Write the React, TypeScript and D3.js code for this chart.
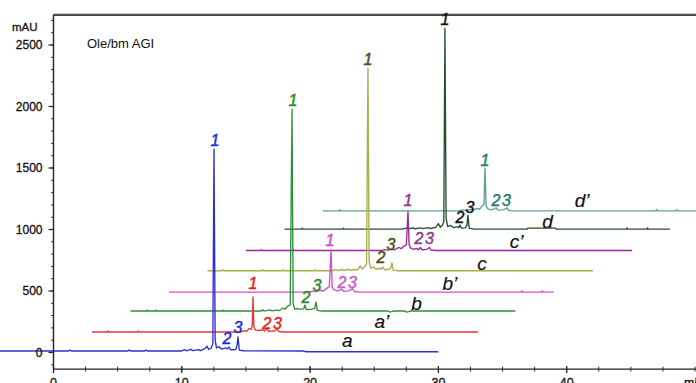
import React from 'react';
import * as d3 from 'd3';

const W = 696;
const H = 383;

const title = 'Ole/bm AGI';
const yUnit = 'mAU';
const xUnit = 'min';
const xTickValues = [0, 10, 20, 30, 40];
const yTickValues = [0, 500, 1000, 1500, 2000, 2500];

// series (stacked chromatograms): names, time shift (min), baseline offset (mAU)
const seriesNames = ['a', 'a\u2019', 'b', 'b\u2019', 'c', 'c\u2019', 'd', 'd\u2019'];
const seriesShift = [0, 3, 6, 9, 12, 15, 18, 21];
const seriesBase = [12, 167, 337, 491, 665, 829, 1003, 1152];
const seriesLine = ['#2e2ed8', '#e23b36', '#2f8f3d', '#d24ed2', '#acac4a', '#962b96', '#2c4c30', '#5e9e96'];
const seriesLabelT = [22.9, 22.6, 22.3, 21.9, 21.4, 21.1, 20.5, 20.2];
const seriesLabelV = [33, 33, 10, 15, 6, 20, 8, 30];

// local chromatograms: [time (min), signal above baseline (mAU)]
const traceA: [number, number][] = [
  [-4.5, 0], [1.2, 0], [1.3, 8], [1.4, 0], [5.8, 0], [5.9, 8], [6.0, 0], [7.1, 0], [7.2, 8], [7.3, 0],
  [10.0, 0], [10.2, 12], [10.35, 2], [10.7, 14], [10.85, 3], [11.3, 12], [11.45, 4], [11.8, 20], [11.95, 40],
  [12.1, 12], [12.3, 25], [12.42, 60], [12.51, 1641], [12.6, 90], [12.7, 25], [12.9, 35], [13.1, 15],
  [13.4, 25], [13.55, 18], [13.68, 33], [13.8, 10], [14.2, 12], [14.3, 40], [14.38, 114], [14.48, 8],
  [14.8, 2], [19.5, 0], [19.7, -6], [30, -6],
];
const traceA2: [number, number][] = [
  [0, 0], [1.2, 0], [1.25, 8], [1.3, 0], [3.55, 0], [3.6, 8], [3.65, 0], [11.6, 0], [11.9, 10], [12.05, 5],
  [12.25, 28], [12.42, 20], [12.5, 60], [12.55, 284], [12.62, 40], [12.75, 15], [13.0, 12], [13.3, 18],
  [13.45, 8], [13.64, 25], [13.75, 6], [14.1, 8], [14.3, 12], [14.42, 25], [14.55, 4], [14.9, 0], [30.1, 0],
];
const traceB: [number, number][] = [
  [0, 0], [1.25, 0], [1.3, 8], [1.35, 0], [1.95, 0], [2.0, 8], [2.05, 0], [7.15, 0], [7.2, 8], [7.25, 0],
  [10.2, 0], [10.3, 10], [10.4, 0], [10.9, 10], [11.0, 2], [11.4, 8], [11.6, 4], [11.9, 25], [12.05, 15],
  [12.25, 40], [12.45, 50], [12.59, 1641], [12.68, 60], [12.8, 15], [13.0, 20], [13.3, 15], [13.5, 18],
  [13.6, 49], [13.7, 12], [14.1, 15], [14.35, 20], [14.46, 73], [14.56, 5], [14.9, 0], [20.1, 0],
  [20.2, -8], [20.5, 0], [21.4, 0], [21.55, -8], [21.8, 0], [30, 0],
];
const traceB2: [number, number][] = [
  [0, 0], [10.9, 0], [11.2, 8], [11.4, 2], [11.8, 15], [12.0, 8], [12.3, 30], [12.5, 45], [12.63, 342],
  [12.72, 40], [12.85, 20], [13.1, 10], [13.3, 15], [13.45, 25], [13.6, 6], [14.0, 10], [14.3, 28],
  [14.45, 5], [14.9, 0], [27.45, 0], [27.5, 10], [27.55, 0], [29.05, 0], [29.1, 10], [29.15, 0], [30, 0],
];
const traceC: [number, number][] = [
  [0, 0], [1.15, 0], [1.2, 8], [1.25, 0], [4.25, 0], [4.3, 8], [4.35, 0], [5.85, 0], [5.9, 8], [5.95, 0],
  [8.35, 0], [8.4, 8], [8.45, 0], [9.8, 0], [10.0, 10], [10.15, 0], [10.5, 10], [10.65, 2], [11.0, 12],
  [11.15, 4], [11.5, 10], [11.7, 5], [11.9, 40], [12.05, 15], [12.25, 30], [12.4, 60], [12.51, 1646],
  [12.6, 80], [12.72, 20], [12.95, 30], [13.15, 12], [13.45, 20], [13.55, 12], [13.68, 30], [13.8, 8],
  [14.15, 12], [14.28, 20], [14.38, 63], [14.48, 5], [14.8, 0], [30.05, 0],
];
const traceC2: [number, number][] = [
  [0, 0], [1.15, 0], [1.2, 8], [1.25, 0], [3.65, 0], [3.7, 8], [3.75, 0], [10.5, 0], [10.8, 8], [11.0, 3],
  [11.4, 10], [11.6, 6], [11.9, 25], [12.1, 15], [12.3, 35], [12.5, 45], [12.63, 316], [12.72, 45],
  [12.85, 20], [13.1, 10], [13.3, 18], [13.45, 6], [13.6, 25], [13.72, 6], [14.1, 10], [14.3, 25],
  [14.42, 4], [14.8, 0], [30.1, 0],
];
const traceD: [number, number][] = [
  [0, 0], [1.35, 0], [1.4, 8], [1.45, 0], [4.55, 0], [4.6, 8], [4.65, 0], [9.2, 0], [9.5, 8], [9.65, 2],
  [10.0, 10], [10.2, 3], [10.6, 10], [10.8, 4], [11.2, 12], [11.4, 5], [11.8, 15], [12.0, 45], [12.15, 15],
  [12.3, 30], [12.42, 60], [12.51, 1633], [12.6, 90], [12.72, 20], [12.95, 30], [13.2, 12], [13.5, 20],
  [13.6, 12], [13.68, 33], [13.8, 8], [14.1, 10], [14.22, 30], [14.3, 114], [14.4, 8], [14.8, 0],
  [18.9, 0], [19.0, 8], [21.1, 8], [21.2, 0], [26.65, 0], [26.7, 10], [26.75, 0], [28.25, 0], [28.3, 10],
  [28.35, 0], [30.05, 0],
];
const traceD2: [number, number][] = [
  [0, 0], [1.25, 0], [1.3, 8], [1.35, 0], [10.6, 0], [10.9, 8], [11.1, 2], [11.5, 12], [11.7, 5], [12.0, 20],
  [12.2, 12], [12.4, 40], [12.55, 50], [12.63, 346], [12.72, 40], [12.85, 15], [13.1, 8], [13.35, 15],
  [13.5, 25], [13.62, 5], [14.0, 8], [14.25, 15], [14.35, 25], [14.45, 4], [14.8, 0], [25.95, 0], [26.0, 10],
  [26.05, 0], [27.55, 0], [27.6, 10], [27.65, 0], [30.5, 0],
];
const traces = [traceA, traceA2, traceB, traceB2, traceC, traceC2, traceD, traceD2];

// peak annotations: [series index, text, local time, local mAU (text centre), colour]
const peakLabels: [number, string, number, number, string][] = [
  [0, '1', 12.59, 1715, '#1c2fe0'], [0, '2', 13.52, 106, '#1c2fe0'], [0, '3', 14.38, 195, '#1c2fe0'],
  [1, '1', 12.55, 398, '#e81e1e'], [1, '23', 14.11, 73, '#e81e1e'],
  [2, '1', 12.67, 1715, '#2a8a2e'], [2, '2', 13.68, 114, '#2a8a2e'], [2, '3', 14.54, 211, '#2a8a2e'],
  [3, '1', 12.55, 423, '#cf4fcf'], [3, '23', 13.95, 81, '#c45ec4'],
  [4, '1', 12.51, 1721, '#46521a'], [4, '2', 13.52, 111, '#46521a'], [4, '3', 14.31, 217, '#46521a'],
  [5, '1', 12.63, 411, '#8e3a8e'], [5, '23', 13.95, 102, '#8e3a8e'],
  [6, '1', 12.51, 1707, '#161616'], [6, '2', 13.68, 98, '#161616'], [6, '3', 14.46, 179, '#161616'],
  [7, '1', 12.63, 412, '#2b7a70'], [7, '23', 13.95, 87, '#2b7a70'],
];

const FONT = '"Liberation Sans", Arial, Helvetica, sans-serif';

export default function App() {
  const x = d3.scaleLinear().domain([0, 50]).range([53.5, 695]);
  const y = d3.scaleLinear().domain([0, 2500]).range([352.5, 45]);
  const yLow = -135;
  const yHigh = 2745;
  const axisY = y(yLow);
  const topY = y(yHigh);
  const axisX = x(0);
  const minorY = d3.range(-100, 2701, 100);
  const minorX = d3.range(0, 50.01, 2.5);

  return (
    <svg width={W} height={H} style={{ position: 'absolute', left: 0, top: 0, background: '#fff' }}
      fontFamily={FONT}>
      <rect x={0} y={0} width={W} height={H} fill="#fff" />
      {/* traces, back to front */}
      {traces.map((_, k) => traces.length - 1 - k).map((i) => {
        const line = d3.line<[number, number]>()
          .x((d) => x(d[0] + seriesShift[i]))
          .y((d) => y(d[1] + seriesBase[i]));
        return (
          <path key={'t' + i} d={line(traces[i]) || ''} fill="none" stroke={seriesLine[i]}
            strokeWidth={1.35} strokeLinejoin="round" />
        );
      })}
      {/* frame / axes */}
      <line x1={axisX} x2={W} y1={topY} y2={topY} stroke="#4a4a4a" strokeWidth={2.4} />
      <line x1={axisX} x2={axisX} y1={topY} y2={axisY} stroke="#222" strokeWidth={1.4} />
      <line x1={axisX} x2={W} y1={axisY} y2={axisY} stroke="#222" strokeWidth={1.4} />
      {minorY.map((v) => (
        <line key={'my' + v} x1={axisX - 2.5} x2={axisX} y1={y(v)} y2={y(v)} stroke="#333" strokeWidth={1} />
      ))}
      {yTickValues.map((v) => (
        <g key={'y' + v}>
          <line x1={axisX - 5} x2={axisX} y1={y(v)} y2={y(v)} stroke="#222" strokeWidth={1.2} />
          <text x={42.5} y={y(v)} dy="0.36em" textAnchor="end" fontSize={12} fill="#111"
            stroke="#111" strokeWidth={0.3}>{v}</text>
        </g>
      ))}
      {minorX.map((v) => (
        <line key={'mx' + v} x1={x(v)} x2={x(v)} y1={axisY - 2.5} y2={axisY + 2.5} stroke="#333" strokeWidth={1} />
      ))}
      {xTickValues.map((v) => (
        <g key={'x' + v}>
          <line x1={x(v)} x2={x(v)} y1={axisY - 3} y2={axisY + 4} stroke="#222" strokeWidth={1.2} />
          <text x={x(v)} y={axisY + 17.5} textAnchor="middle" fontSize={12.5} fill="#111"
            stroke="#111" strokeWidth={0.3}>{v}</text>
        </g>
      ))}
      <text x={x(50) - 11} y={axisY + 17.5} fontSize={12.5} fill="#111" stroke="#111" strokeWidth={0.3}>{xUnit}</text>
      <text x={12} y={31} fontSize={11.5} fill="#111" stroke="#111" strokeWidth={0.3}>{yUnit}</text>
      <text x={87} y={47.5} fontSize={13} fill="#111">{title}</text>
      {/* peak labels */}
      {peakLabels.map(([i, txt, t, v, c], n) => (
        <text key={'p' + n} x={x(t + seriesShift[i])} y={y(v + seriesBase[i])} dy="0.36em"
          textAnchor="middle" fontSize={16} fontStyle="italic" fill={c} stroke={c} strokeWidth={0.5}
          letterSpacing={txt.length > 1 ? 1.5 : 0}>{txt}</text>
      ))}
      {/* series labels */}
      {seriesNames.map((name, i) => (
        <text key={'s' + i} x={x(seriesLabelT[i] + seriesShift[i])} y={y(seriesLabelV[i] + seriesBase[i])}
          textAnchor="middle" fontSize={19} fontStyle="italic" fill="#111" stroke="#111" strokeWidth={0.2}>{name}</text>
      ))}
    </svg>
  );
}
